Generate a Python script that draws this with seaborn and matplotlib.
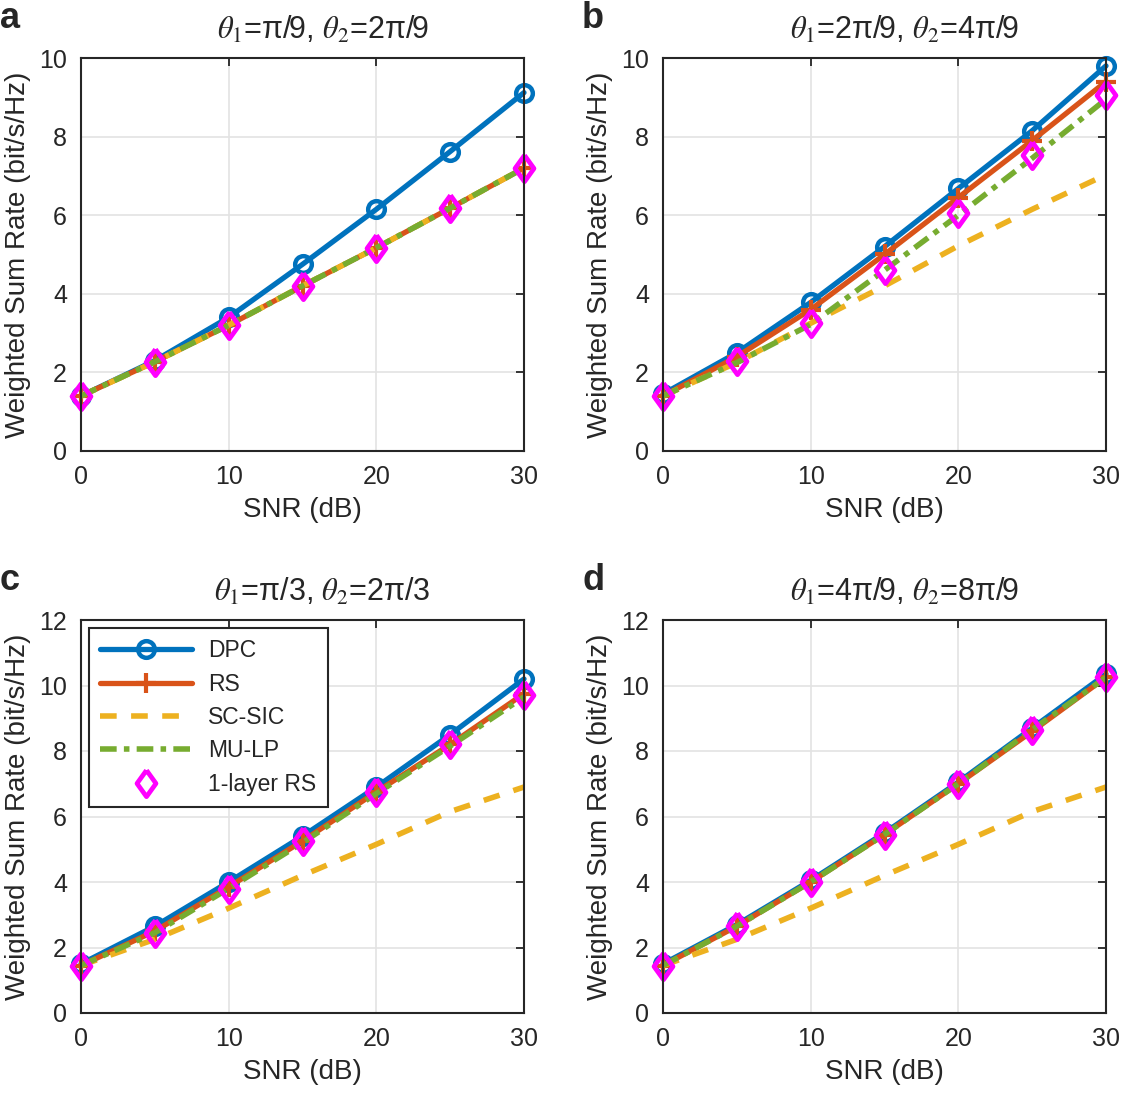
import numpy as np
import pandas as pd
import matplotlib
matplotlib.use("Agg")
import matplotlib.pyplot as plt
import seaborn as sns

# ================= data =================
snr = [0, 5, 10, 15, 20, 25, 30]
schemes = ["DPC", "RS", "SC-SIC", "MU-LP", "1-layer RS"]

titles = [r"$\theta_1$=π/9, $\theta_2$=2π/9",
          r"$\theta_1$=2π/9, $\theta_2$=4π/9",
          r"$\theta_1$=π/3, $\theta_2$=2π/3",
          r"$\theta_1$=4π/9, $\theta_2$=8π/9"]
panel_labels = ["a", "b", "c", "d"]
ylims = [10, 10, 12, 12]

# panel a
dpc_a = [1.40, 2.30, 3.40, 4.75, 6.15, 7.62, 9.12]
rs_a = [1.40, 2.27, 3.20, 4.20, 5.17, 6.18, 7.20]
scsic_a = [1.40, 2.27, 3.20, 4.20, 5.17, 6.18, 7.20]
mulp_a = [1.40, 2.27, 3.20, 4.20, 5.17, 6.18, 7.20]
one_a = [1.40, 2.27, 3.20, 4.20, 5.17, 6.18, 7.20]

# panel b
dpc_b = [1.45, 2.50, 3.78, 5.20, 6.68, 8.15, 9.80]
rs_b = [1.40, 2.40, 3.60, 5.00, 6.45, 7.90, 9.40]
scsic_b = [1.40, 2.25, 3.25, 4.20, 5.22, 6.15, 7.03]
mulp_b = [1.40, 2.25, 3.22, 4.60, 6.00, 7.45, 8.95]
one_b = [1.40, 2.28, 3.25, 4.60, 6.05, 7.52, 9.05]

# panel c
dpc_c = [1.50, 2.65, 4.00, 5.40, 6.90, 8.50, 10.20]
rs_c = [1.45, 2.50, 3.85, 5.25, 6.75, 8.20, 9.75]
scsic_c = [1.45, 2.25, 3.20, 4.20, 5.15, 6.15, 6.90]
mulp_c = [1.45, 2.45, 3.80, 5.20, 6.70, 8.15, 9.65]
one_c = [1.45, 2.45, 3.80, 5.25, 6.75, 8.20, 9.70]

# panel d
dpc_d = [1.50, 2.70, 4.05, 5.50, 7.05, 8.70, 10.35]
rs_d = [1.45, 2.65, 4.00, 5.45, 7.00, 8.60, 10.25]
scsic_d = [1.45, 2.25, 3.20, 4.20, 5.15, 6.15, 6.90]
mulp_d = [1.45, 2.65, 4.00, 5.45, 7.00, 8.65, 10.25]
one_d = [1.45, 2.65, 4.00, 5.45, 7.00, 8.65, 10.25]

panels = [
    [dpc_a, rs_a, scsic_a, mulp_a, one_a],
    [dpc_b, rs_b, scsic_b, mulp_b, one_b],
    [dpc_c, rs_c, scsic_c, mulp_c, one_c],
    [dpc_d, rs_d, scsic_d, mulp_d, one_d],
]

# MATLAB-style diamond (a bit taller than wide)
diamond = [(0, 1), (0.72, 0), (0, -1), (-0.72, 0), (0, 1)]

styles = {
    "DPC": dict(color="#0072BD", linestyle="-", linewidth=3.8, marker="o",
                markersize=12, markerfacecolor="none",
                markeredgecolor="#0072BD", markeredgewidth=3.2),
    "RS": dict(color="#D95319", linestyle="-", linewidth=3.8, marker="+",
               markersize=15, markeredgecolor="#D95319", markeredgewidth=3.0),
    "SC-SIC": dict(color="#EDB120", linestyle=(0, (3.0, 2.6)), linewidth=4.0),
    "MU-LP": dict(color="#77AC30", linestyle=(0, (3.0, 1.3, 1.0, 1.3)),
                  linewidth=4.0),
    "1-layer RS": dict(color="#FF00FF", linestyle="none", marker=diamond,
                       markersize=19, markerfacecolor="none",
                       markeredgecolor="#FF00FF", markeredgewidth=3.4),
}

# ================= plotting =================
sns.set_style("whitegrid")
plt.rcParams['font.family'] = ['Liberation Sans', 'DejaVu Sans']
plt.rcParams['mathtext.fontset'] = 'stix'

fig = plt.figure(figsize=(11.21, 10.93), dpi=100)
W, H = 1121, 1093
boxes = [(81, 58), (663, 58), (81, 620), (663, 620)]
aw, ah = 443, 393

for i, (vals, (x0, y0)) in enumerate(zip(panels, boxes)):
    ax = fig.add_axes([x0 / W, 1 - (y0 + ah) / H, aw / W, ah / H])
    for name, y in zip(schemes, vals):
        sns.lineplot(x=snr, y=y, ax=ax, label=name, clip_on=False,
                     **styles[name])
    ax.set_xlim(0, 30)
    ax.set_ylim(0, ylims[i])
    ax.set_xticks([0, 10, 20, 30])
    ax.set_yticks(np.arange(0, ylims[i] + 1, 2))
    ax.grid(True, color="#e3e3e3", linewidth=1.2)
    for s in ax.spines.values():
        s.set_color("#262626")
        s.set_linewidth(1.5)
    ax.tick_params(direction="in", length=6, width=1.3, color="#262626",
                   top=True, right=True, labelsize=18, pad=10)
    ax.set_xlabel("SNR (dB)", fontsize=20, labelpad=6)
    ax.set_ylabel("Weighted Sum Rate (bit/s/Hz)", fontsize=20, labelpad=6)
    ax.set_title(titles[i], fontsize=22, pad=14, x=0.545)
    if i == 2:
        leg = ax.legend(loc="upper left", fontsize=16.5, handlelength=4.0,
                        handletextpad=0.7, fancybox=False, framealpha=1,
                        borderpad=0.5, labelspacing=0.45,
                        bbox_to_anchor=(0.0, 1.0), borderaxespad=0.35)
        leg.get_frame().set_edgecolor("#262626")
        leg.get_frame().set_linewidth(1.5)
    else:
        ax.get_legend().remove()
    fig.text((x0 - 81) / W, 1 - (y0 - 40) / H, panel_labels[i],
             fontsize=26, fontweight="bold", va="center", ha="left")

fig.savefig("out.png", dpi=100)
